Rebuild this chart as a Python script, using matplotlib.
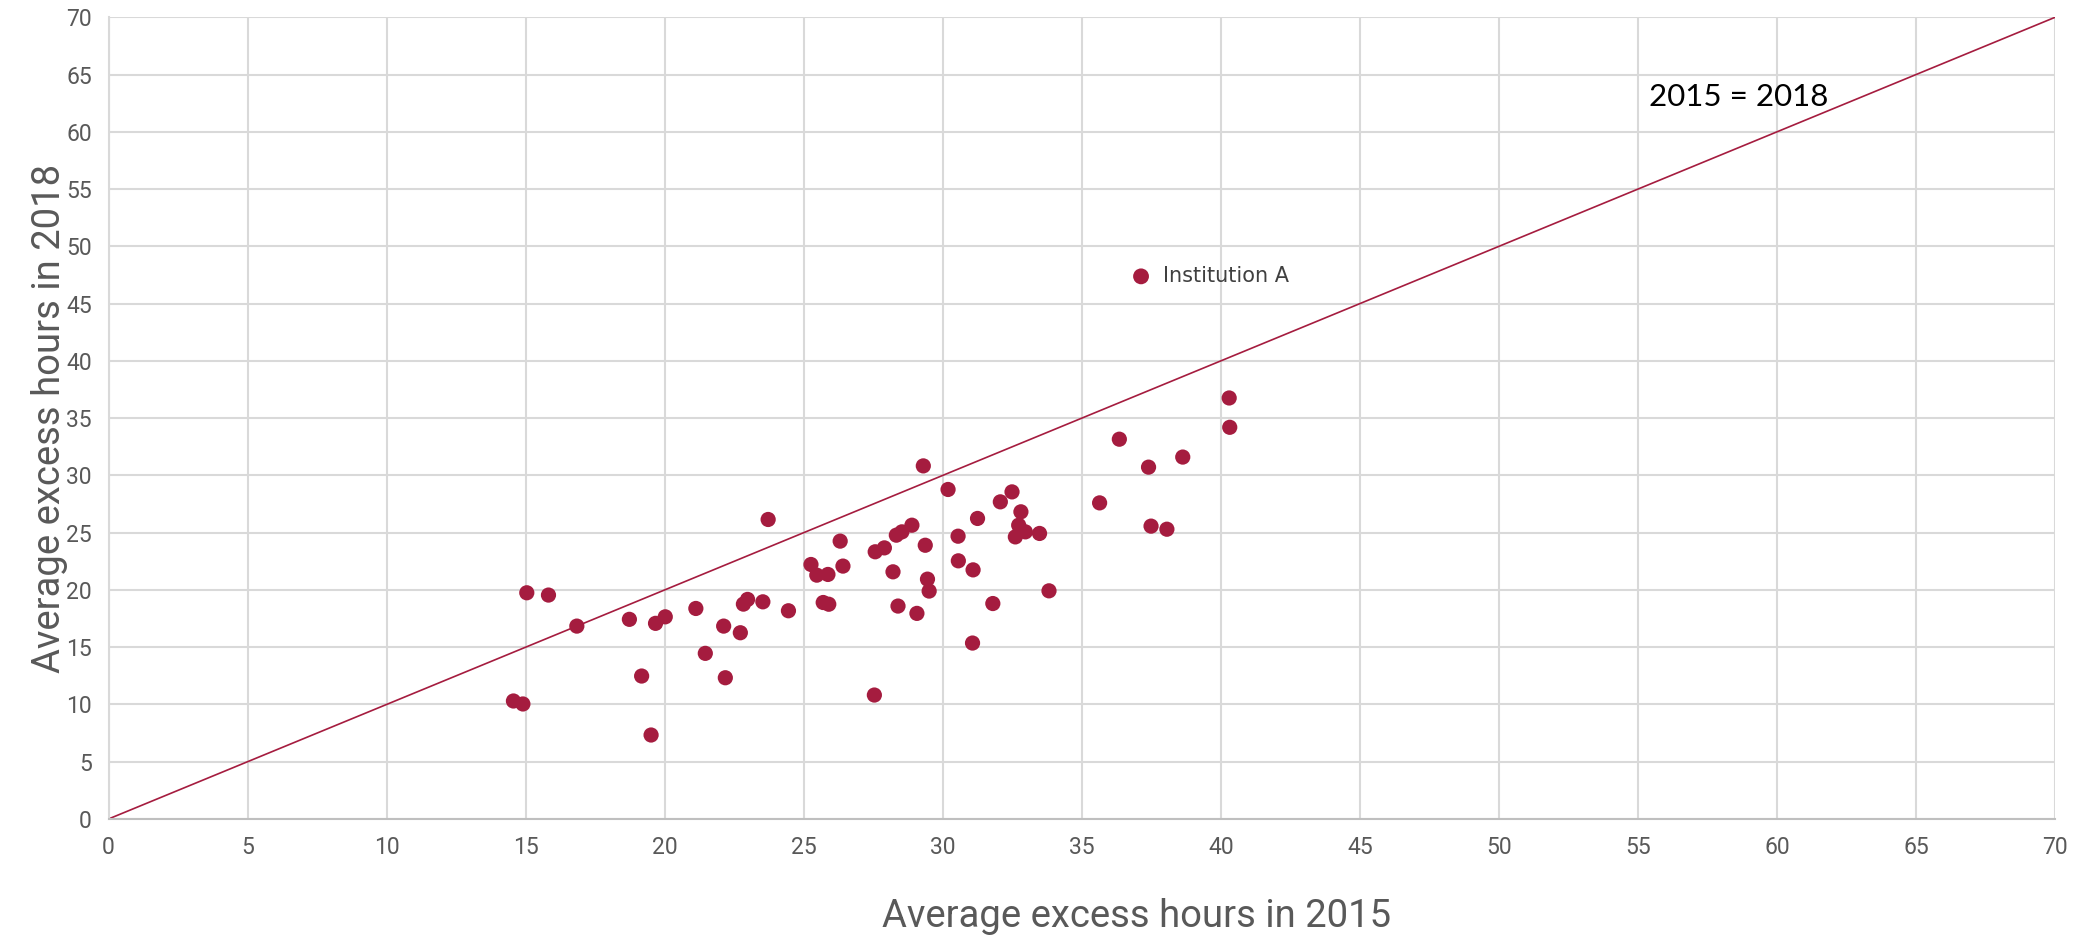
import matplotlib
matplotlib.use("Agg")
import matplotlib.pyplot as plt

# Data (2015 vs 2018 average excess hours)
x2015 = [15.04, 15.82, 16.84, 18.73, 19.67, 20.02, 21.12, 22.12, 22.72, 22.83, 22.98,
         23.53, 21.46, 22.18, 19.17, 14.56, 14.90, 19.51, 23.72, 24.45, 25.26, 25.47,
         25.87, 26.31, 26.41, 25.70, 25.90, 27.54, 27.57, 27.90, 28.33, 28.53, 28.89,
         28.21, 28.39, 29.07, 29.37, 29.45, 29.51, 29.30, 30.19, 30.55, 30.56, 31.09,
         31.07, 31.80, 31.25, 32.07, 32.49, 32.81, 32.73, 32.61, 32.97, 33.48, 33.82,
         35.64, 37.49, 38.06, 40.30, 40.32, 36.35, 37.40, 38.63]
x2018 = [19.75, 19.55, 16.84, 17.43, 17.08, 17.65, 18.38, 16.84, 16.26, 18.76, 19.17,
         18.96, 14.46, 12.33, 12.48, 10.30, 10.04, 7.33, 26.15, 18.18, 22.22, 21.29,
         21.35, 24.26, 22.08, 18.90, 18.75, 10.82, 23.33, 23.67, 24.78, 25.07, 25.65,
         21.58, 18.59, 17.95, 23.90, 20.94, 19.90, 30.83, 28.77, 24.69, 22.54, 21.75,
         15.36, 18.81, 26.24, 27.69, 28.56, 26.82, 25.65, 24.63, 25.07, 24.93, 19.92,
         27.60, 25.57, 25.30, 36.76, 34.20, 33.16, 30.72, 31.60]
highlight_name = "Institution A"
highlight_x = [37.13]
highlight_y = [47.38]
ticks = list(range(0, 75, 5))

RED = "#A51C3F"
GREY_TXT = "#595959"
GRID = "#D9D9D9"

fig = plt.figure(figsize=(20.8, 9.41), dpi=100)
ax = fig.add_axes([0.0522, 0.1297, 0.9358, 0.8519])

ax.set_xlim(0, 70)
ax.set_ylim(0, 70)
ax.set_xticks(ticks)
ax.set_yticks(ticks)
ax.grid(True, color=GRID, linewidth=1.5)
ax.set_axisbelow(True)
for s in ["top", "right"]:
    ax.spines[s].set_visible(False)
ax.spines["left"].set_color(GRID)
ax.spines["left"].set_linewidth(1.5)
ax.spines["bottom"].set_color("#BFBFBF")
ax.spines["bottom"].set_linewidth(1.5)
ax.tick_params(length=0, labelsize=16.5, labelcolor=GREY_TXT, pad=12)
for lab in ax.get_xticklabels() + ax.get_yticklabels():
    lab.set_fontfamily("Roboto")

# 2015 = 2018 line
ax.plot([0, 70], [0, 70], color=RED, linewidth=1.2, zorder=2)
ax.text(55.4, 63.0, "2015 = 2018", fontsize=22.5, family="Lato", color="black",
        va="center", ha="left")

ax.scatter(x2015, x2018, s=120, color=RED, edgecolors="none", zorder=3)
ax.scatter(highlight_x, highlight_y, s=130, color=RED, edgecolors="none", zorder=3)
ax.annotate(highlight_name, (highlight_x[0], highlight_y[0]), xytext=(16, 0),
            textcoords="offset points", va="center", ha="left",
            fontsize=15, family="DejaVu Sans", color="#404040")

ax.set_xlabel("Average excess hours in 2015", fontsize=27.5, family="Roboto",
              color=GREY_TXT)
ax.xaxis.set_label_coords(0.528, -0.098)
ax.set_ylabel("Average excess hours in 2018", fontsize=27.5, family="Roboto",
              color=GREY_TXT)
ax.yaxis.set_label_coords(-0.021, 0.5)

fig.savefig("out.png", dpi=100)
